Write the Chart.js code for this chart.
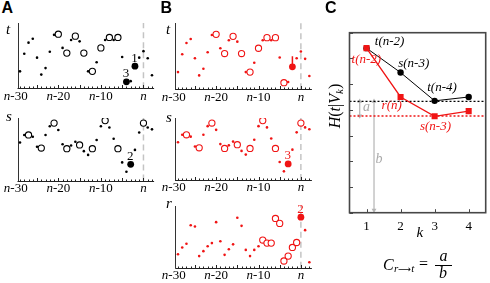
<!DOCTYPE html>
<html>
<head>
<meta charset="utf-8">
<script src="https://cdn.jsdelivr.net/npm/chart.js@4.4.1/dist/chart.umd.min.js"></script>
<style>
  html, body { margin: 0; padding: 0; background: #fff; }
  #fig { position: relative; width: 490px; height: 283px; overflow: hidden; font-family: 'Liberation Serif', 'Times New Roman', serif; color: #000; }
  #fig canvas { position: absolute; }
  .lbl { position: absolute; line-height: 1; white-space: nowrap; }
  .pl { font-family: 'Liberation Sans', Arial, sans-serif; font-weight: bold; font-size: 16px; }
  .var { font-style: italic; font-size: 15px; }
</style>
</head>
<body>
<div id="fig">
  <canvas id="cAt"></canvas>
  <canvas id="cAs"></canvas>
  <canvas id="cBt"></canvas>
  <canvas id="cBs"></canvas>
  <canvas id="cBr"></canvas>
  <canvas id="cC"></canvas>

  <div class="lbl pl" style="left:1.5px;top:0">A</div>
  <div class="lbl pl" style="left:160.5px;top:0">B</div>
  <div class="lbl pl" style="left:325px;top:0">C</div>

  <div class="lbl var" style="left:6px;top:21.7px">t</div>
  <div class="lbl var" style="left:6px;top:109.1px">s</div>
  <div class="lbl var" style="left:166px;top:21.7px">t</div>
  <div class="lbl var" style="left:166px;top:109.7px">s</div>
  <div class="lbl var" style="left:166px;top:196.4px">r</div>

  <!-- panel C texts -->
  <div class="lbl" style="left:295px;top:97px;width:80px;height:18px;line-height:18px;text-align:center;font-size:16px;transform:rotate(-90deg)"><i>H</i>(<i>t</i>|<i>V</i><sub style="font-size:11px;font-style:italic;vertical-align:-3px">k</sub>)</div>
  <div class="lbl" style="left:416.5px;top:224.7px;font-size:15px;font-style:italic">k</div>
  <div class="lbl" style="left:363px;top:100.3px;font-size:14px;font-style:italic;color:#aaa">a</div>
  <div class="lbl" style="left:375.5px;top:151.6px;font-size:14px;font-style:italic;color:#aaa">b</div>

  <div class="lbl" style="left:383px;top:256.9px;font-size:16px;font-style:italic">C</div>
  <div class="lbl" style="left:394px;top:263px;font-size:11px;font-style:italic">r<span style="font-family:'DejaVu Sans',sans-serif;font-style:normal;font-size:9px">&#10230;</span>t</div>
  <div class="lbl" style="left:419px;top:256px;font-size:16px">=</div>
  <div class="lbl" style="left:439.5px;top:248.2px;font-size:16px;font-style:italic">a</div>
  <div style="position:absolute;left:435px;top:264.5px;width:17px;height:1px;background:#000"></div>
  <div class="lbl" style="left:439px;top:265.1px;font-size:16px;font-style:italic">b</div>
</div>

<script>
// ---------------- panels A & B: values per lag (relative to n), scaled 0..1
const LAGS = [-29, -28, -27, -26, -25, -24, -23, -22, -21, -20, -19, -18, -17, -16, -15, -14,
              -13, -12, -11, -10, -9, -8, -7, -6, -5, -4, -3, -2, -1, 0, 1, 2];
const T_SERIES = [0.26, 0.53, 0.70, 0.76, 0.47, 0.21, 0.31, 0.56, 0.82, 0.83, 0.62, 0.54, 0.74, 0.80, 0.72, 0.54,
                  0.26, 0.26, 0.40, 0.62, 0.74, 0.78, 0.74, 0.78, 0.48, 0.10, 0.11, 0.34, 0.47, 0.57, 0.46, 0.20];
const S_SERIES = [0.61, 0.73, 0.73, 0.70, 0.54, 0.52, 0.73, 0.87, 0.92, 0.81, 0.58, 0.51, 0.56, 0.62, 0.57, 0.47,
                  0.41, 0.51, 0.65, 0.87, 0.96, 0.85, 0.67, 0.51, 0.29, 0.14, 0.26, 0.49, 0.77, 0.92, 0.85, 0.82];
const R_SERIES = [0.22, 0.33, 0.39, 0.69, 0.67, 0.19, 0.27, 0.35, 0.40, 0.74, 0.43, 0.21, 0.30, 0.38, 0.81, 0.68,
                  0.29, 0.19, 0.29, 0.35, 0.45, 0.40, 0.40, 0.80, 0.72, 0.11, 0.19, 0.33, 0.41, 0.82, 0.61, 0.09];

const T_OPEN_A = [-20, -18, -16, -14, -12, -10, -8, -6];
const T_BIG_A  = [-4, -2];
const T_OPEN_B = [-20, -18, -16, -14, -12, -10, -8, -6, -4];
const T_BIG_B  = [-2];
const S_OPEN   = [-27, -24, -21, -18, -15, -12, -9, -6, 0];
const S_BIG    = [-3];
const R_OPEN   = [-9, -8, -7, -6, -5, -4, -3, -2, -1];
const R_BIG    = [0];
const T_JUMP_B = [-2, 0.34, 0.50];   // lag, from, to

const X_TICKS       = [-30, -20, -10, 0];
const X_TICK_SUFFIX = ['-30', '-20', '-10', ''];   // shown after an italic n

// ---------------- panel C
const K_VALUES   = [1, 2, 3, 4];
const H_BLACK    = [1.28, 1.09, 0.87, 0.90];
const H_RED      = [1.28, 0.90, 0.75, 0.79];
const TAGS_BLACK = ['t(n-2)', 's(n-3)', 't(n-4)', ''];
const TAGS_RED   = ['t(n-2)', 'r(n)', 's(n-3)', ''];
const LEVEL_BLACK = 0.866;
const LEVEL_RED   = 0.752;
const Y_TICKS_C  = [0, 0.2, 0.4, 0.6, 0.8, 1.0, 1.2, 1.4];
const Y_LABELS_C = [0, 1.4];
const ARROW_A = [0.80, LEVEL_RED, LEVEL_BLACK];
const ARROW_B = [1.22, 0.02, LEVEL_BLACK];

const RED = '#f01414';
const SERIF = "'Liberation Serif', 'Times New Roman', serif";
Chart.defaults.font.family = SERIF;

function place(el, box) {
  el.width = box[2]; el.height = box[3];
  el.style.left = box[0] + 'px'; el.style.top = box[1] + 'px';
}

function makePanel(p) {
  const el = document.getElementById(p.id);
  place(el, p.box);
  const [bl, bt, bw, bh] = p.box;
  const [x0, y0, x1, y1] = p.area;
  const kind = i => p.big.includes(LAGS[i]) ? 'big' : p.open.includes(LAGS[i]) ? 'open' : 'dot';

  const datasets = [
    { data: LAGS.map((k, i) => ({ x: k, y: p.series[i] })), order: 1,
      pointRadius: c => ({ dot: 1.3, open: 3.1, big: 3.4 })[kind(c.dataIndex)],
      pointBackgroundColor: c => kind(c.dataIndex) === 'open' ? '#fff' : p.color,
      pointBorderColor: p.color,
      pointBorderWidth: c => kind(c.dataIndex) === 'open' ? 1.1 : 0 },
    { type: 'line', showLine: true, order: 3, data: [{ x: 0, y: 0 }, { x: 0, y: 1 }],
      borderColor: '#c4c4c4', borderWidth: 1.5, borderDash: [6, 4], pointRadius: 0 }
  ];
  if (p.jump) datasets.push({ type: 'line', showLine: true, order: 2,
    data: [{ x: p.jump[0], y: p.jump[1] }, { x: p.jump[0], y: p.jump[2] }],
    borderColor: p.color, borderWidth: 1.5, pointRadius: 0 });

  const marks = {
    id: 'marks_' + p.id,
    afterDraw(chart) {
      const { ctx, chartArea: a, scales: { x, y } } = chart;
      ctx.save();
      ctx.strokeStyle = '#222'; ctx.lineWidth = 1;
      const yb = Math.round(a.bottom) + 0.5;
      ctx.beginPath(); ctx.moveTo(a.left - 0.5, yb); ctx.lineTo(a.right, yb); ctx.stroke();
      LAGS.forEach(k => {
        const px = Math.round(x.getPixelForValue(k)) + 0.5;
        const len = k % 5 === 0 ? 3.5 : 2;
        ctx.beginPath(); ctx.moveTo(px, yb); ctx.lineTo(px, yb - len); ctx.stroke();
      });
      // tick labels: italic n + upright offset
      ctx.fillStyle = '#000'; ctx.textBaseline = 'middle'; ctx.textAlign = 'left';
      const fN = 'italic 13px ' + SERIF, fR = '13px ' + SERIF;
      X_TICKS.forEach((v, i) => {
        ctx.font = fN; const wN = ctx.measureText('n').width;
        ctx.font = fR; const wR = ctx.measureText(X_TICK_SUFFIX[i]).width;
        const sx = x.getPixelForValue(v) - (wN + wR) / 2, ty = a.bottom + 8;
        ctx.font = fN; ctx.fillText('n', sx, ty);
        ctx.font = fR; ctx.fillText(X_TICK_SUFFIX[i], sx + wN, ty);
      });
      ctx.fillStyle = p.color;
      ctx.font = '13px ' + SERIF;
      ctx.textAlign = 'center';
      (p.notes || []).forEach(([k, txt]) => {
        const i = LAGS.indexOf(k);
        ctx.fillText(txt, x.getPixelForValue(k) - 0.5, y.getPixelForValue(p.series[i]) - 8);
      });
      ctx.restore();
    }
  };

  new Chart(el, {
    type: 'scatter',
    data: { datasets },
    plugins: [marks],
    options: {
      responsive: false, animation: false, events: [],
      layout: { padding: { left: x0 - bl, top: y0 - bt, right: bl + bw - x1, bottom: bt + bh - y1 - 14 } },
      plugins: { legend: { display: false }, tooltip: { enabled: false } },
      scales: {
        x: { type: 'linear', min: p.range[0], max: p.range[1],
             grid: { display: false, drawTicks: false },
             border: { display: false },
             ticks: { display: false },
             afterFit: s => { s.height = 14; } },
        y: { min: 0, max: 1,
             grid: { display: false, drawTicks: false },
             border: { display: true, color: '#333', width: 1 },
             ticks: { display: false },
             afterFit: s => { s.width = 0; } }
      }
    }
  });
}

const RANGE_A = [-29.47, 2.5];
const RANGE_B = [-29.54, 2.6];
[
  { id: 'cAt', series: T_SERIES, open: T_OPEN_A, big: T_BIG_A, color: '#000', notes: [[-2, '1'], [-4, '3']],
    box: [0, 18, 162, 86],   area: [18, 22, 154.1, 88.3],   range: RANGE_A },
  { id: 'cAs', series: S_SERIES, open: S_OPEN, big: S_BIG, color: '#000', notes: [[-3, '2']],
    box: [0, 113, 162, 84],  area: [18, 117, 154.1, 180.5], range: RANGE_A },
  { id: 'cBt', series: T_SERIES, open: T_OPEN_B, big: T_BIG_B, color: RED, jump: T_JUMP_B,
    box: [157, 18, 160, 86], area: [175.7, 22.7, 313.3, 89.3], range: RANGE_B },
  { id: 'cBs', series: S_SERIES, open: S_OPEN, big: S_BIG, color: RED, notes: [[-3, '3']],
    box: [157, 113, 160, 84], area: [175.7, 117, 313.3, 180], range: RANGE_B },
  { id: 'cBr', series: R_SERIES, open: R_OPEN, big: R_BIG, color: RED, notes: [[0, '2']],
    box: [157, 201, 160, 82], area: [175.7, 205.5, 313.3, 267.8], range: RANGE_B }
].forEach(makePanel);

// ---------------- panel C chart
(function () {
  const el = document.getElementById('cC');
  const box = [326, 20, 164, 222];
  const area = [349.5, 32.7, 487, 212.7];
  place(el, box);
  const TAG_OFF_BLACK = [[8.3, -6.3], [-2.4, -9.4], [-7.4, -13.4]];
  const TAG_OFF_RED   = [[-15, 11.7], [-19, 9], [-14.7, 10.3]];
  const GRAY = '#b4b4b4';
  const arrow = ar => ({ data: [{ x: ar[0], y: ar[1] }, { x: ar[0], y: ar[2] }], order: 5,
    borderColor: GRAY, backgroundColor: GRAY, borderWidth: 1.2,
    pointStyle: 'triangle', pointRadius: 2.8, pointRotation: [180, 0], pointBorderWidth: 0 });

  const cMarks = {
    id: 'cMarks',
    afterDraw(chart) {
      const { ctx, chartArea: a, scales: { x, y } } = chart;
      ctx.save();
      ctx.strokeStyle = '#474747'; ctx.lineWidth = 1.6;
      ctx.strokeRect(a.left, a.top, a.right - a.left, a.bottom - a.top);
      ctx.lineWidth = 1;
      y.ticks.forEach(t => {
        const py = Math.round(y.getPixelForValue(t.value)) + 0.5;
        ctx.beginPath(); ctx.moveTo(a.left, py); ctx.lineTo(a.left + 3.5, py); ctx.stroke();
      });
      x.ticks.forEach(t => {
        const px = Math.round(x.getPixelForValue(t.value)) + 0.5;
        ctx.beginPath(); ctx.moveTo(px, a.bottom); ctx.lineTo(px, a.bottom - 3.5); ctx.stroke();
      });
      ctx.font = 'italic 13px ' + SERIF;
      ctx.textAlign = 'left'; ctx.textBaseline = 'middle';
      [[1, TAGS_BLACK, '#000', TAG_OFF_BLACK], [0, TAGS_RED, RED, TAG_OFF_RED]].forEach(([di, tags, col, offs]) => {
        const pts = chart.getDatasetMeta(di).data;
        ctx.fillStyle = col;
        tags.forEach((tag, i) => {
          if (!tag) return;
          ctx.fillText(tag, pts[i].x + offs[i][0], pts[i].y + offs[i][1]);
        });
      });
      ctx.restore();
    }
  };

  new Chart(el, {
    type: 'line',
    data: { datasets: [
      { data: K_VALUES.map((k, i) => ({ x: k, y: H_RED[i] })), order: 1, tension: 0,
        borderColor: RED, backgroundColor: RED, borderWidth: 1.3, pointStyle: 'rect', pointRadius: 4.3, pointBorderWidth: 0 },
      { data: K_VALUES.map((k, i) => ({ x: k, y: H_BLACK[i] })), order: 2, tension: 0,
        borderColor: '#000', backgroundColor: '#000', borderWidth: 1, pointStyle: 'circle', pointRadius: 3.2, pointBorderWidth: 0 },
      { data: [{ x: 0.5, y: LEVEL_BLACK }, { x: 4.5, y: LEVEL_BLACK }], order: 4,
        borderColor: '#000', borderWidth: 1.3, borderDash: [2, 2], pointRadius: 0 },
      { data: [{ x: 0.5, y: LEVEL_RED }, { x: 4.5, y: LEVEL_RED }], order: 4,
        borderColor: RED, borderWidth: 1.3, borderDash: [2, 2], pointRadius: 0 },
      arrow(ARROW_A),
      arrow(ARROW_B)
    ] },
    plugins: [cMarks],
    options: {
      responsive: false, animation: false, events: [],
      layout: { padding: { left: area[0] - box[0], top: area[1] - box[1], right: box[0] + box[2] - area[2], bottom: box[1] + box[3] - area[3] - 20 } },
      plugins: { legend: { display: false }, tooltip: { enabled: false } },
      scales: {
        x: { type: 'linear', min: 0.5, max: 4.5,
             grid: { display: false, drawTicks: false }, border: { display: false },
             ticks: { color: '#000', font: { size: 13 }, padding: 6.2, maxRotation: 0, autoSkip: false },
             afterBuildTicks: s => { s.ticks = K_VALUES.map(v => ({ value: v })); },
             afterFit: s => { s.height = 20; } },
        y: { type: 'linear', min: 0, max: 1.4,
             grid: { display: false, drawTicks: false }, border: { display: false },
             ticks: { color: '#000', font: { size: 13 }, padding: 4.5,
                      callback: v => Y_LABELS_C.includes(v) ? String(v) : '' },
             afterBuildTicks: s => { s.ticks = Y_TICKS_C.map(v => ({ value: v })); },
             afterFit: s => { s.width = 0; } }
      }
    }
  });
})();
</script>
</body>
</html>
